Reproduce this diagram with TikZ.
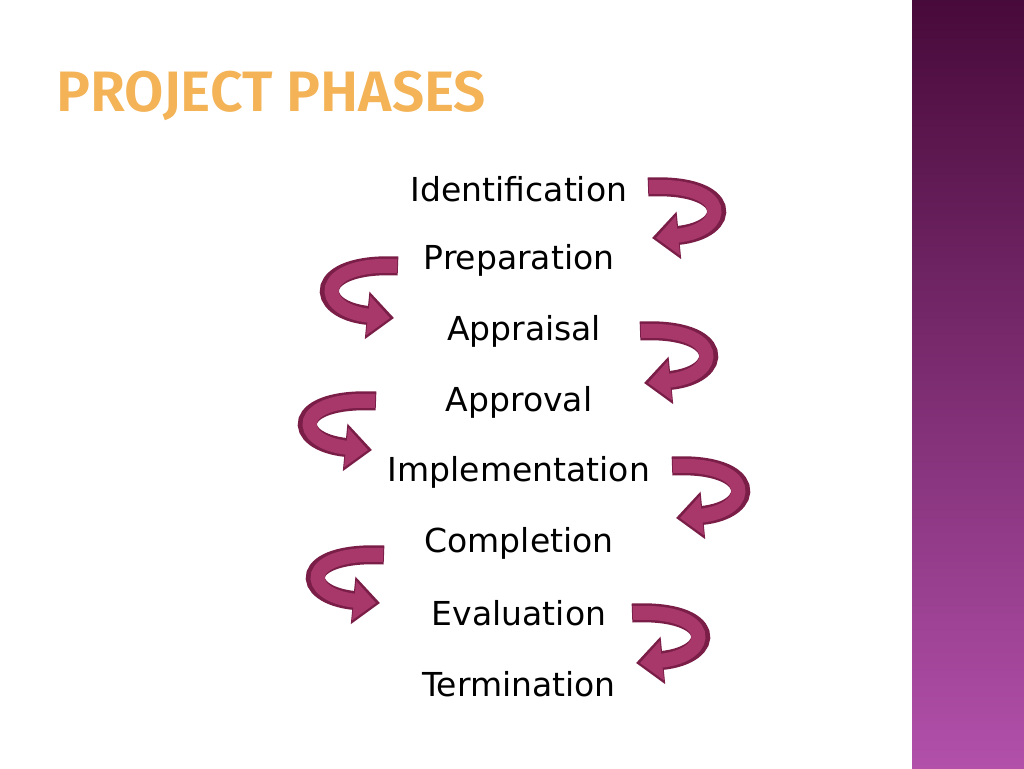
\documentclass[tikz,border=0pt]{standalone}
\usepackage{fontspec}
\setmainfont{DejaVu Sans}
\newfontfamily\titlefont{Fira Sans SemiBold}
\usetikzlibrary{arrows.meta}
\definecolor{arrfill}{HTML}{A8386A}
\definecolor{arrline}{HTML}{7A1E48}
\definecolor{titlecol}{HTML}{F3B356}
\tikzset{x=1pt,y=-1pt,
  phase/.style={font=\fontsize{33}{38}\selectfont, text=black, inner sep=0pt},
  outer/.style={line width=19pt, arrline, -{Triangle[width=46pt,length=27pt]}},
  inner/.style={line width=14pt, arrfill, -{Triangle[width=38pt,length=22pt]}}}
\newcommand{\rarr}[3]{%
  \draw[outer] (#1,#2) .. controls (#1+86,#2-4) and (#1+86,#3-8) .. (#1+4,#3);
  \draw[inner] (#1+1,#2) .. controls (#1+83,#2-4) and (#1+83,#3-8) .. (#1+8,#3);}
\newcommand{\larr}[3]{%
  \draw[outer] (#1,#2) .. controls (#1-86,#2-4) and (#1-86,#3-8) .. (#1-4,#3);
  \draw[inner] (#1-1,#2) .. controls (#1-83,#2-4) and (#1-83,#3-8) .. (#1-8,#3);}
\begin{document}
\begin{tikzpicture}
\useasboundingbox (0,0) rectangle (1024,768);
\fill[white] (0,0) rectangle (1024,768);
\shade[top color={rgb,255:red,72;green,10;blue,58}, bottom color={rgb,255:red,178;green,80;blue,170}] (912,0) rectangle (1024,768);
\node[anchor=west, inner sep=0pt, text=titlecol, font=\titlefont\fontsize{57}{62}\selectfont] (title) at (56,96) {PROJECT PHASES};
\node[phase] (p1) at (519,189) {Identification};
\node[phase] (p2) at (519,260) {Preparation};
\node[phase] (p3) at (524,331) {Appraisal};
\node[phase] (p4) at (519,402) {Approval};
\node[phase] (p5) at (519,472) {Implementation};
\node[phase] (p6) at (519,543) {Completion};
\node[phase] (p7) at (519,613) {Evaluation};
\node[phase] (p8) at (519,684) {Termination};
\rarr{648}{187}{238}
\larr{398}{266}{318}
\rarr{640}{331}{383}
\larr{376}{401}{450}
\rarr{672}{466}{518}
\larr{384}{555}{603}
\rarr{632}{613}{663}
\end{tikzpicture}
\end{document}
